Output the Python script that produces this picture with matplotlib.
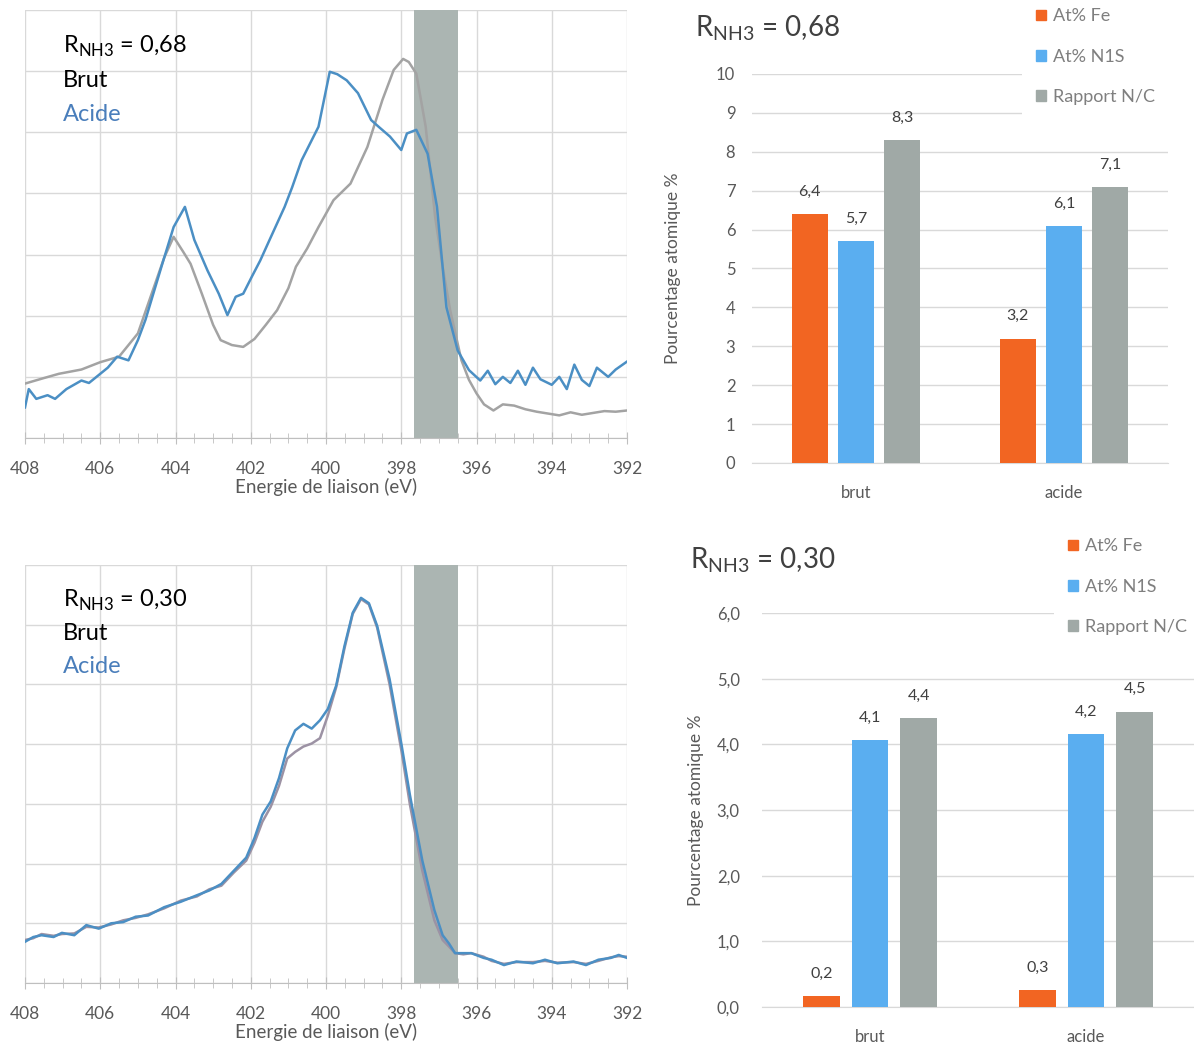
import matplotlib.pyplot as plt
from matplotlib.ticker import MultipleLocator, FuncFormatter
from matplotlib.patches import Patch

plt.rcParams['font.family'] = ['Lato', 'DejaVu Sans']
plt.rcParams['mathtext.fontset'] = 'custom'
plt.rcParams['mathtext.rm'] = 'Lato'

# --- XPS N1s spectra, R_NH3 = 0,68 (y in gridline units) ---
xBrut068 = [408.0, 407.5, 407.1, 406.5, 406.0, 405.5, 405.0, 404.6, 404.3, 404.05, 403.8, 403.6, 403.3, 403.0,
            402.8, 402.5, 402.2, 401.9, 401.6, 401.3, 401.0, 400.8, 400.5, 400.2, 399.8, 399.35, 398.9, 398.5,
            398.2, 397.95, 397.8, 397.6, 397.35, 397.1, 396.9, 396.7, 396.4, 396.2, 396.0, 395.8, 395.55, 395.3,
            395.0, 394.7, 394.4, 394.1, 393.8, 393.5, 393.2, 392.9, 392.6, 392.3, 392.0]
yBrut068 = [0.89, 0.98, 1.05, 1.12, 1.24, 1.33, 1.71, 2.42, 2.95, 3.29, 3.05, 2.85, 2.36, 1.85,
            1.6, 1.52, 1.49, 1.62, 1.85, 2.09, 2.45, 2.8, 3.1, 3.45, 3.89, 4.16, 4.76, 5.53,
            6.02, 6.2, 6.15, 5.96, 5.09, 3.62, 2.8, 2.09, 1.27, 0.95, 0.73, 0.55, 0.45, 0.55,
            0.53, 0.47, 0.43, 0.40, 0.37, 0.42, 0.38, 0.41, 0.44, 0.43, 0.45]
xAcide068 = [408.0, 407.9, 407.7, 407.4, 407.2, 406.9, 406.5, 406.3, 406.0, 405.8, 405.55, 405.25, 405.0, 404.8,
             404.35, 404.05, 403.75, 403.5, 403.15, 402.85, 402.62, 402.4, 402.2, 401.97, 401.75, 401.5, 401.1,
             400.9, 400.65, 400.2, 399.9, 399.7, 399.45, 399.15, 398.8, 398.6, 398.3, 398.0, 397.85, 397.6,
             397.3, 397.05, 396.8, 396.5, 396.2, 395.9, 395.7, 395.5, 395.3, 395.1, 394.9, 394.7, 394.5, 394.3,
             394.0, 393.8, 393.6, 393.4, 393.2, 393.0, 392.8, 392.5, 392.3, 392.0]
yAcide068 = [0.5, 0.8, 0.64, 0.7, 0.64, 0.8, 0.94, 0.9, 1.05, 1.15, 1.33, 1.27, 1.6, 1.93,
             2.85, 3.45, 3.78, 3.24, 2.74, 2.36, 2.01, 2.31, 2.36, 2.64, 2.9, 3.24, 3.78,
             4.1, 4.54, 5.09, 5.99, 5.95, 5.85, 5.64, 5.2, 5.09, 4.93, 4.71, 4.98, 5.04,
             4.65, 3.78, 2.14, 1.43, 1.11, 0.94, 1.1, 0.88, 1.0, 0.9, 1.1, 0.87, 1.15, 0.96,
             0.87, 1.0, 0.8, 1.2, 0.95, 0.85, 1.15, 1.0, 1.12, 1.25]

# --- XPS N1s spectra, R_NH3 = 0,30 ---
x030 = [408.0, 407.78, 407.56, 407.24, 407.02, 406.69, 406.37, 406.04, 405.71, 405.39, 405.06, 404.73, 404.3,
        403.86, 403.43, 403.1, 402.78, 402.45, 402.12, 401.9, 401.69, 401.47, 401.25, 401.03, 400.82, 400.6,
        400.38, 400.16, 399.95, 399.73, 399.51, 399.29, 399.07, 398.86, 398.64, 398.31, 397.99, 397.77, 397.44,
        397.12, 396.9, 396.73, 396.57, 396.35, 396.14, 395.81, 395.6, 395.27, 394.94, 394.5, 394.18, 393.85,
        393.42, 393.09, 392.76, 392.43, 392.22, 392.0]
yBrut030 = [0.72, 0.75, 0.82, 0.79, 0.82, 0.83, 0.94, 0.93, 0.98, 1.05, 1.09, 1.15, 1.25,
            1.38, 1.45, 1.57, 1.63, 1.85, 2.05, 2.35, 2.7, 2.95, 3.3, 3.76, 3.87, 3.96,
            4.01, 4.1, 4.48, 4.95, 5.6, 6.18, 6.43, 6.34, 5.95, 5.0, 3.87, 2.99, 1.88,
            1.05, 0.72, 0.61, 0.5, 0.48, 0.5, 0.44, 0.37, 0.32, 0.35, 0.35, 0.37, 0.34,
            0.35, 0.32, 0.37, 0.43, 0.45, 0.44]
yAcide030 = [0.69, 0.77, 0.80, 0.77, 0.84, 0.80, 0.97, 0.91, 1.0, 1.02, 1.11, 1.13, 1.27,
             1.36, 1.47, 1.55, 1.66, 1.88, 2.1, 2.43, 2.82, 3.04, 3.43, 3.93, 4.23, 4.34,
             4.26, 4.4, 4.59, 4.98, 5.64, 6.2, 6.45, 6.36, 5.98, 5.09, 3.98, 3.15, 2.05,
             1.22, 0.80, 0.66, 0.5, 0.5, 0.5, 0.42, 0.39, 0.30, 0.36, 0.33, 0.39, 0.33,
             0.36, 0.3, 0.39, 0.42, 0.47, 0.42]

# --- atomic composition bars ---
categories = ['brut', 'acide']
seriesNames = ['At% Fe', 'At% N1S', 'Rapport N/C']
fe068 = [6.4, 3.2]
n068 = [5.7, 6.1]
nc068 = [8.3, 7.1]
fe030 = [0.17, 0.26]
n030 = [4.06, 4.16]
nc030 = [4.4, 4.5]

barColors = ['#f26522', '#5aaef0', '#a0a9a6']
gridColor = '#d9d9d9'
textGray = '#595959'

W, H = 1194, 1054
fig = plt.figure(figsize=(W / 100, H / 100), dpi=100)


def rect(left, top, right, bottom):
    return [left / W, 1 - bottom / H, (right - left) / W, (bottom - top) / H]


def comma(v, fmt='{:.1f}'):
    return fmt.format(v).replace('.', ',')


def spectrum(r, brut, acide, brutColor, ratio, textY):
    ax = fig.add_axes(r)
    ax.axvspan(397.65, 396.5, color='#abb5b2', lw=0, zorder=1)
    ax.plot(brut[0], brut[1], color=brutColor, lw=1.8, zorder=3)
    ax.plot(acide[0], acide[1], color='#4b8fc4', lw=1.8, zorder=4)
    ax.set_xlim(408, 392)
    ax.set_ylim(0, 7)
    ax.set_xticks(range(408, 391, -2))
    ax.xaxis.set_minor_locator(MultipleLocator(0.5))
    ax.set_yticks(range(8))
    ax.grid(True, which='major', color=gridColor, lw=1)
    ax.set_axisbelow(True)
    for s in ['top', 'left', 'right']:
        ax.spines[s].set_visible(False)
    ax.spines['bottom'].set_color('#bfbfbf')
    ax.tick_params(axis='y', left=False, labelleft=False)
    ax.tick_params(axis='x', which='major', direction='inout', length=9, color='#bfbfbf',
                   labelsize=12.5, labelcolor=textGray, pad=12)
    ax.tick_params(axis='x', which='minor', direction='inout', length=7, color='#bfbfbf')
    ax.set_xlabel('Energie de liaison (eV)', fontsize=13.5, color=textGray, labelpad=1)
    ax.text(0.063, textY[0], r'R$_{\mathregular{NH3}}$ = ' + ratio, transform=ax.transAxes,
            fontsize=17, color='black', va='center')
    ax.text(0.063, textY[1], 'Brut', transform=ax.transAxes, fontsize=17, color='black', va='center')
    ax.text(0.063, textY[2], 'Acide', transform=ax.transAxes, fontsize=17, color='#4a7ebb', va='center')
    return ax


def bars(r, fe, n, nc, ymax, tickFmt, width, step, ylabelX, tickPad):
    ax = fig.add_axes(r)
    xs = range(len(categories))
    for k, vals in enumerate([fe, n, nc]):
        pos = [x + (k - 1) * step for x in xs]
        ax.bar(pos, vals, width=width, color=barColors[k], zorder=3)
        for p, v in zip(pos, vals):
            ax.annotate(comma(v), (p, v), xytext=(0, 16), textcoords='offset points',
                        ha='center', va='center', fontsize=11.5, color='#404040')
    ax.set_xlim(-0.5, 1.5)
    ax.set_ylim(0, ymax)
    ax.yaxis.set_major_locator(MultipleLocator(1))
    ax.yaxis.set_major_formatter(FuncFormatter(lambda v, p: comma(v, tickFmt)))
    ax.set_xticks(list(xs))
    ax.set_xticklabels(categories)
    ax.grid(True, axis='y', color=gridColor, lw=1)
    ax.set_axisbelow(True)
    for s in ['top', 'left', 'right']:
        ax.spines[s].set_visible(False)
    ax.spines['bottom'].set_color(gridColor)
    ax.tick_params(axis='both', length=0, labelsize=12, labelcolor=textGray)
    ax.tick_params(axis='y', pad=tickPad)
    ax.tick_params(axis='x', pad=16)
    ax.set_ylabel('Pourcentage atomique %', fontsize=12.5, color=textGray)
    ax.yaxis.set_label_coords(ylabelX, 0.5)
    return ax


def legend(x, y):
    handles = [Patch(color=c) for c in barColors]
    fig.legend(handles, seriesNames, loc='upper left', bbox_to_anchor=(x / W, 1 - y / H),
               frameon=True, facecolor='white', edgecolor='none', framealpha=1,
               handlelength=0.55, handleheight=0.55, handletextpad=0.35, labelspacing=1.35,
               fontsize=13, labelcolor='#7f7f7f', borderpad=0.8, borderaxespad=0)


spectrum(rect(25, 10, 627, 438), (xBrut068, yBrut068), (xAcide068, yAcide068), '#a3a3a3', '0,68',
         (0.914, 0.836, 0.757))
spectrum(rect(25, 565, 627, 983), (x030, yBrut030), (x030, yAcide030), '#9c92a4', '0,30',
         (0.915, 0.836, 0.757))

bars(rect(752, 74, 1168, 463), fe068, n068, nc068, 10, '{:.0f}', 0.17, 0.222, -0.17, 12)
bars(rect(762, 613, 1194, 1007), fe030, n030, nc030, 6, '{:.1f}', 0.168, 0.225, -0.135, 16)

fig.text(695 / W, 1 - 28 / H, r'R$_{\mathregular{NH3}}$ = 0,68', fontsize=20, color='#404040', va='center')
fig.text(690 / W, 1 - 560 / H, r'R$_{\mathregular{NH3}}$ = 0,30', fontsize=20, color='#404040', va='center')

legend(1022, -6)
legend(1054, 524)

fig.savefig('out.png', dpi=100)
